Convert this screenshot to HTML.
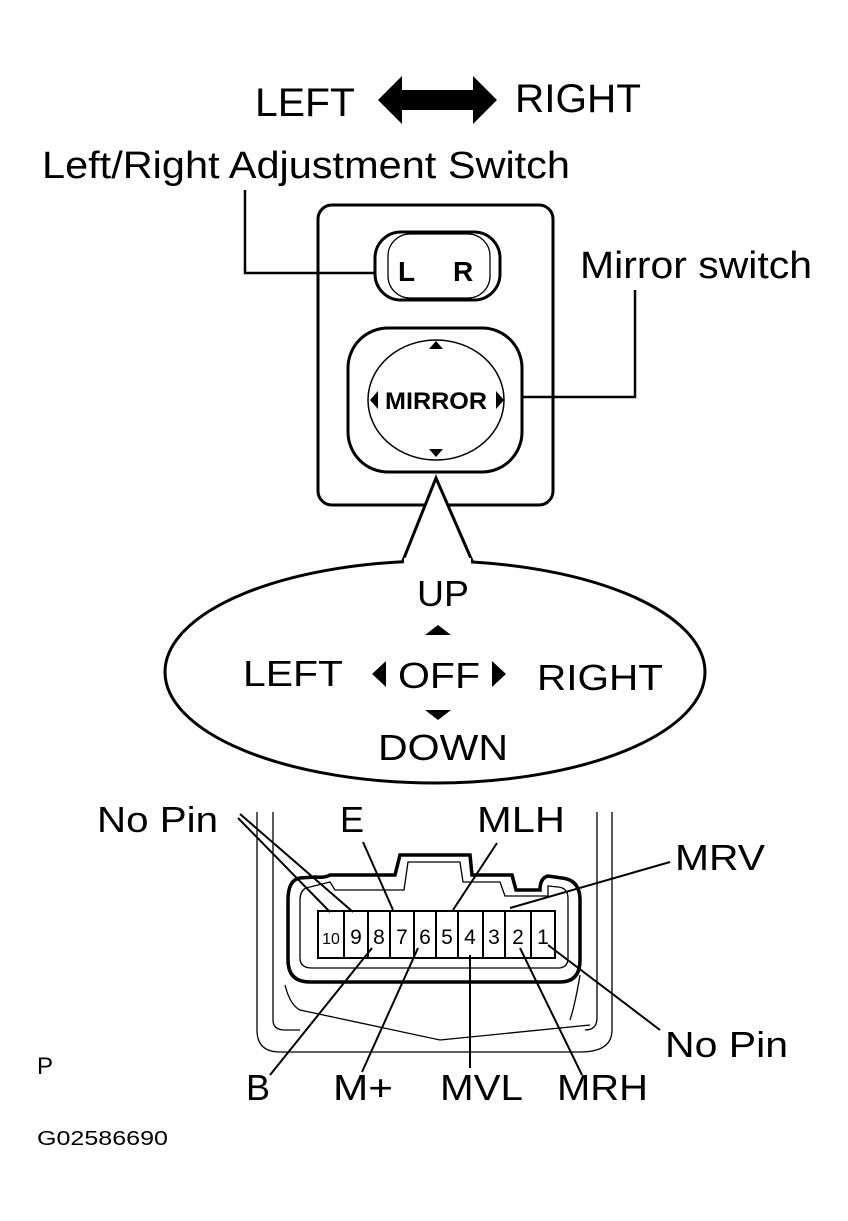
<!DOCTYPE html>
<html><head><meta charset="utf-8"><style>
html,body{margin:0;padding:0;background:#fff;}
svg{display:block;}
text{font-family:"Liberation Sans",sans-serif;fill:#000;}
</style></head><body>
<svg width="848" height="1221" viewBox="0 0 848 1221" xmlns="http://www.w3.org/2000/svg">
<text x="255" y="116" font-size="40" textLength="100" lengthAdjust="spacingAndGlyphs">LEFT</text>
<path d="M378,100 L402,76 L402,90 L473,90 L473,76 L497,100 L473,124 L473,110 L402,110 L402,124 Z" fill="#000"/>
<text x="515" y="112" font-size="40" textLength="126" lengthAdjust="spacingAndGlyphs">RIGHT</text>
<text x="42" y="178" font-size="38" textLength="528" lengthAdjust="spacingAndGlyphs">Left/Right Adjustment Switch</text>
<text x="580" y="278" font-size="38" textLength="232" lengthAdjust="spacingAndGlyphs">Mirror switch</text>

<rect x="318" y="205" width="235" height="300" rx="14" fill="none" stroke="#000" stroke-width="3"/>
<rect x="375" y="232" width="125" height="68" rx="26" fill="none" stroke="#000" stroke-width="3"/>
<rect x="388" y="234" width="102" height="64" rx="22" fill="none" stroke="#000" stroke-width="1.3"/>
<text x="398" y="281" font-size="28" font-weight="bold">L</text>
<text x="453" y="281" font-size="28" font-weight="bold">R</text>
<polyline points="245,190 245,273 375,273" fill="none" stroke="#000" stroke-width="2.5"/>

<rect x="348" y="328" width="174" height="144" rx="40" fill="none" stroke="#000" stroke-width="3"/>
<ellipse cx="436" cy="400" rx="68" ry="60" fill="none" stroke="#000" stroke-width="1.5"/>
<text x="385" y="409" font-size="24" font-weight="bold" textLength="102" lengthAdjust="spacingAndGlyphs">MIRROR</text>
<path d="M370,400 L378,391 L378,409 Z M504,400 L496,391 L496,409 Z M436,341 L429,349 L443,349 Z M436,457 L429,449 L443,449 Z" fill="#000"/>
<polyline points="635,290 635,397 522,397" fill="none" stroke="#000" stroke-width="2.5"/>

<ellipse cx="435" cy="672" rx="270" ry="111" fill="#fff" stroke="#000" stroke-width="3"/>
<path d="M402,563 L436,478 L473,563" fill="#fff" stroke="#000" stroke-width="3"/>
<rect x="404" y="558" width="67" height="10" fill="#fff"/>
<text x="417" y="606" font-size="36" textLength="52" lengthAdjust="spacingAndGlyphs">UP</text>
<path d="M438,625 L425,635 L451,635 Z M438,720 L425,710 L451,710 Z M372,674 L386,661 L386,687 Z M506,674 L492,661 L492,687 Z" fill="#000"/>
<text x="243" y="686" font-size="36" textLength="100" lengthAdjust="spacingAndGlyphs">LEFT</text>
<text x="398" y="688" font-size="36" textLength="82" lengthAdjust="spacingAndGlyphs">OFF</text>
<text x="537" y="690" font-size="36" textLength="126" lengthAdjust="spacingAndGlyphs">RIGHT</text>
<text x="378" y="760" font-size="36" textLength="130" lengthAdjust="spacingAndGlyphs">DOWN</text>

<g fill="none" stroke="#000" stroke-width="1.3">
<path d="M257,812 L257,1030 Q257,1052 280,1052 L580,1052 Q612,1052 612,1030 L612,812"/>
<path d="M273,812 L273,1020 Q273,1030 285,1030 L300,1030"/>
<path d="M597,812 L597,1018 Q597,1030 585,1030"/>
<path d="M285,985 Q290,1005 300,1010 L440,1040 L590,1025"/>
<path d="M580,975 Q575,1005 570,1020"/>
</g>

<path d="M300,878 Q288,880 288,900 L288,960 Q288,982 310,982 L560,982 Q580,982 580,960 L580,900 Q580,880 562,878 L548,876 Q540,878 540,890 L516,890 L512,875 L472,875 L470,855 L400,855 L395,875 L330,875 Q325,878 315,877 Z" fill="none" stroke="#000" stroke-width="3.5"/>
<path d="M310,887 Q300,888 300,900 L300,958 Q300,968 312,968 L558,968 Q568,968 568,958 L568,898 Q568,888 558,887 L548,886 L548,896 L505,896 L500,882 L463,882 L460,862 L408,862 L404,890 L335,890 L330,882 Z" fill="none" stroke="#000" stroke-width="1.3"/>
<rect x="318" y="911" width="237" height="47" fill="none" stroke="#000" stroke-width="2"/>
<g stroke="#000" stroke-width="2">
<line x1="344" y1="911" x2="344" y2="958"/><line x1="368" y1="911" x2="368" y2="958"/>
<line x1="390" y1="911" x2="390" y2="958"/><line x1="414" y1="911" x2="414" y2="958"/>
<line x1="436" y1="911" x2="436" y2="958"/><line x1="458" y1="911" x2="458" y2="958"/>
<line x1="483" y1="911" x2="483" y2="958"/><line x1="505" y1="911" x2="505" y2="958"/>
<line x1="531" y1="911" x2="531" y2="958"/>
</g>
<g font-size="21" text-anchor="middle">
<text x="331" y="944" font-size="16">10</text><text x="356" y="944">9</text><text x="379" y="944">8</text>
<text x="402" y="944">7</text><text x="425" y="944">6</text><text x="447" y="944">5</text>
<text x="470" y="944">4</text><text x="494" y="944">3</text><text x="518" y="944">2</text><text x="543" y="944">1</text>
</g>

<g stroke="#000" stroke-width="2" fill="none">
<line x1="238" y1="818" x2="330" y2="912"/>
<line x1="240" y1="814" x2="353" y2="912"/>
<line x1="363" y1="842" x2="393" y2="910"/>
<line x1="497" y1="843" x2="453" y2="910"/>
<line x1="670" y1="862" x2="510" y2="908"/>
<line x1="548" y1="945" x2="660" y2="1030"/>
<line x1="520" y1="948" x2="582" y2="1075"/>
<line x1="470" y1="955" x2="470" y2="1068"/>
<line x1="418" y1="948" x2="362" y2="1072"/>
<line x1="372" y1="948" x2="270" y2="1075"/>
</g>
<g font-size="36" lengthAdjust="spacingAndGlyphs">
<text x="97" y="832" textLength="121" lengthAdjust="spacingAndGlyphs">No Pin</text>
<text x="340" y="832">E</text>
<text x="477" y="832" textLength="88" lengthAdjust="spacingAndGlyphs">MLH</text>
<text x="675" y="870" textLength="90" lengthAdjust="spacingAndGlyphs">MRV</text>
<text x="665" y="1057" textLength="123" lengthAdjust="spacingAndGlyphs">No Pin</text>
<text x="246" y="1100">B</text>
<text x="333" y="1100" textLength="60" lengthAdjust="spacingAndGlyphs">M+</text>
<text x="440" y="1100" textLength="83" lengthAdjust="spacingAndGlyphs">MVL</text>
<text x="557" y="1100" textLength="91" lengthAdjust="spacingAndGlyphs">MRH</text>
</g>
<text x="37" y="1074" font-size="24">P</text>
<text x="37" y="1145" font-size="20" textLength="131" lengthAdjust="spacingAndGlyphs">G02586690</text>
</svg>
</body></html>
